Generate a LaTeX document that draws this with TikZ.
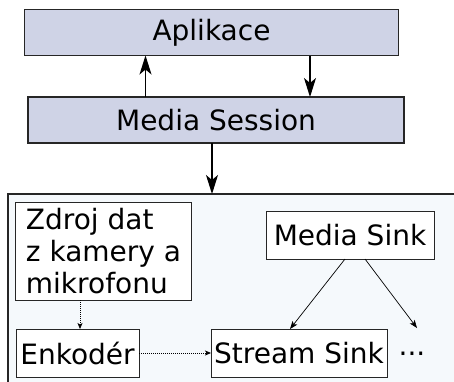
\documentclass[tikz,border=0pt]{standalone}
\usepackage{fontspec}
\setmainfont{DejaVu Sans}
\usetikzlibrary{arrows.meta}
\begin{document}
\begin{tikzpicture}[x=1pt,y=-1pt,
  every node/.style={inner sep=0pt,outer sep=0pt,font=\fontsize{28}{32}\selectfont},
  topbox/.style={draw=black!85,line width=1.3pt,fill=lav,rectangle},
  inbox/.style={draw=black!85,line width=1pt,fill=white,rectangle},
  bighead/.tip={Stealth[length=19pt,width=12pt,inset=5pt]},
  bigarrow/.style={-bighead,line width=1.3pt},
  bigarrowback/.style={bighead-,line width=1.3pt},
  thinarrow/.style={-{Stealth[length=8pt,width=6pt,inset=2pt]},line width=0.7pt},
  dotarrow/.style={-{Stealth[length=6pt,width=5pt,inset=1.5pt]},line width=0.7pt,dash pattern=on 1pt off 1pt}
]
\definecolor{lav}{HTML}{CFD3E6}
\definecolor{pale}{HTML}{F5F9FC}
\useasboundingbox (0,0) rectangle (454,381);
\fill[white] (0,0) rectangle (454,381);
\node[topbox,minimum width=374pt,minimum height=46pt] (app) at (211.5,32.5) {Aplikace};
\node[topbox,minimum width=376pt,minimum height=46pt] (ms) at (216,120) {Media Session};
\node[draw=black!85,line width=1.3pt,fill=pale,anchor=north west,minimum width=470pt,minimum height=220pt] (cont) at (8,194) {};
\node[inbox,minimum width=176pt,minimum height=98pt,align=left] (src) at (103.5,251) {Zdroj dat\\z kamery a\\mikrofonu};
\node[inbox,minimum width=168pt,minimum height=48pt] (msink) at (350,235) {Media Sink};
\node[inbox,minimum width=123pt,minimum height=48pt] (enc) at (77.5,353) {Enkodér};
\node[inbox,minimum width=176pt,minimum height=48pt] (ssink) at (299,353) {Stream Sink};
\node (dots) at (412,358) {···};
\coordinate (dtop) at (417,328);
\draw[bigarrowback] (app.south -| 145.5,0) -- (ms.north -| 145.5,0);
\draw[bigarrow] (app.south -| 310,0) -- (ms.north -| 310,0);
\draw[bigarrow] (ms.south -| 212,0) -- (cont.north -| 212,0);
\draw[dotarrow] (src.south -| 80,0) -- (enc.north -| 80,0);
\draw[dotarrow] (enc.east) -- (ssink.west);
\draw[thinarrow] (msink.south -| 345,0) -- (ssink.north -| 290,0);
\draw[thinarrow] (msink.south -| 365,0) -- (dtop);
\end{tikzpicture}
\end{document}
